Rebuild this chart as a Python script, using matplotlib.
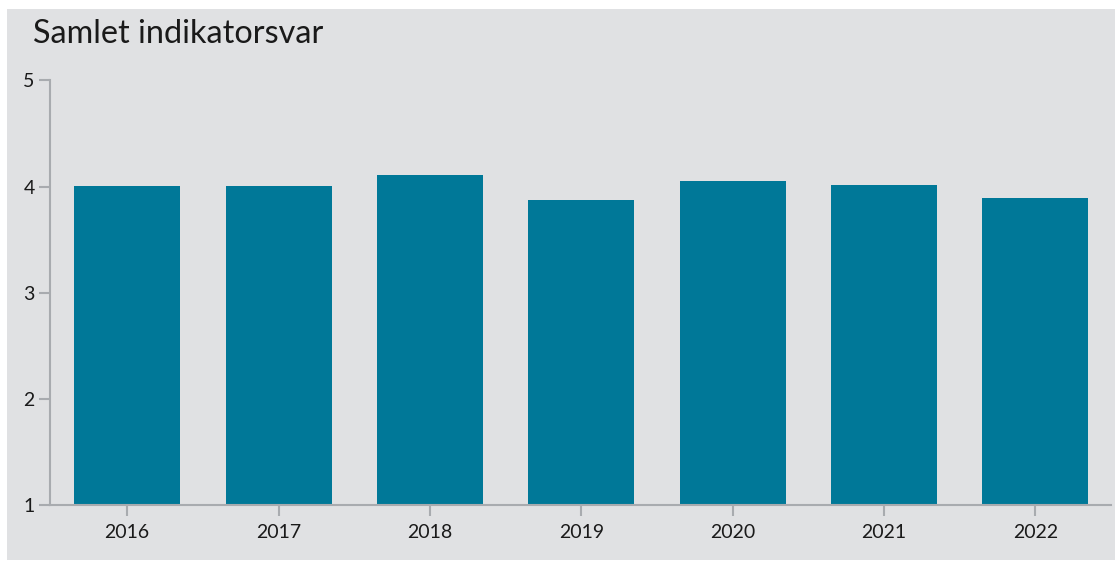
import matplotlib.pyplot as plt
from matplotlib.patches import Rectangle

years = ["2016", "2017", "2018", "2019", "2020", "2021", "2022"]
values = [4.01, 4.01, 4.11, 3.87, 4.05, 4.02, 3.89]

bg = "#e0e1e3"
bar_color = "#007898"
axis_color = "#a8abaf"

plt.rcParams['font.family'] = ['Lato', 'DejaVu Sans']

W, H = 1117, 561
fig = plt.figure(figsize=(W / 100, H / 100), dpi=100, facecolor="white")
# grey panel behind the chart
fig.patches.append(Rectangle((7 / W, 1 - 560 / H), (1115 - 7) / W, (560 - 9) / H,
                             transform=fig.transFigure, facecolor=bg, edgecolor="none", zorder=-5))

ax = fig.add_axes([50 / W, 1 - 505 / H, (1111 - 50) / W, (505 - 80.5) / H])
ax.set_facecolor("none")

x = range(len(years))
ax.bar(x, [v - 1 for v in values], bottom=1, width=0.7, color=bar_color, zorder=2)

ax.set_xlim(-0.51, 6.5)
ax.set_ylim(1, 5)
ax.set_xticks(list(x))
ax.set_xticklabels(years)
ax.set_yticks([1, 2, 3, 4, 5])

for s in ["top", "right"]:
    ax.spines[s].set_visible(False)
for s in ["left", "bottom"]:
    ax.spines[s].set_color(axis_color)
    ax.spines[s].set_linewidth(1.5)
ax.spines["bottom"].set_zorder(3)

ax.tick_params(axis="both", colors=axis_color, width=1.5, length=8, labelcolor="#1a1a1a", labelsize=14)
ax.tick_params(axis="x", pad=6)
ax.tick_params(axis="y", pad=3)

fig.text(33 / W, 1 - 34 / H, "Samlet indikatorsvar", fontsize=23.3, color="#1a1a1a", va="center", ha="left")

fig.savefig("out.png", dpi=100, facecolor="white")
